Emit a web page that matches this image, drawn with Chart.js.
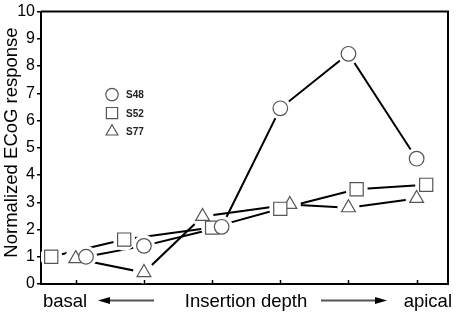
<!DOCTYPE html>
<html>
<head>
<meta charset="utf-8">
<script src="https://cdn.jsdelivr.net/npm/chart.js@4/dist/chart.umd.min.js"></script>
<style>
  html, body { margin: 0; padding: 0; background: #fff; }
  #wrap { width: 459px; height: 315px; }
</style>
</head>
<body>
<div id="wrap"><canvas id="ecogChart"></canvas></div>
<script>
// insertion depth positions (tick marks along the x-axis)
var depths = [1, 2, 3, 4, 5, 6];
var yTicks = [0, 1, 2, 3, 4, 5, 6, 7, 8, 9, 10];
// subjects, plotted slightly offset around each depth
var s48X = [1.15, 2.0, 3.14, 4.0, 5.0, 6.0];
var s48Y = [1.0, 1.4, 2.1, 6.45, 8.45, 4.6];
var s52X = [0.64, 1.71, 3.0, 4.0, 5.12, 6.14];
var s52Y = [1.0, 1.63, 2.07, 2.76, 3.48, 3.64];
var s77X = [1.0, 2.0, 2.86, 4.14, 5.0, 6.0];
var s77Y = [0.93, 0.42, 2.48, 2.92, 2.8, 3.14];

var FONT = '"Liberation Sans", Arial, sans-serif';

function pts(xs, ys) {
  return xs.map(function (x, i) { return { x: x, y: ys[i] }; });
}

var series = [
  { label: 'S48', data: pts(s48X, s48Y), style: 'circle', r: 7.3 },
  { label: 'S52', data: pts(s52X, s52Y), style: 'rect', r: 9.3 },
  { label: 'S77', data: pts(s77X, s77Y), style: 'triangle', r: 8 }
];

var datasets = [];
series.forEach(function (s) {
  // connecting line
  datasets.push({
    data: s.data, showLine: true, borderColor: '#000', borderWidth: 2,
    pointRadius: 0, order: 3
  });
  // white gap around each marker
  datasets.push({
    data: s.data, showLine: false, pointStyle: 'circle', pointRadius: 11,
    pointBackgroundColor: '#fff', pointBorderWidth: 0, order: 2
  });
  // marker
  datasets.push({
    label: s.label, data: s.data, showLine: false, pointStyle: s.style,
    pointRadius: s.r, pointBackgroundColor: '#fff', pointBorderColor: '#555',
    pointBorderWidth: 1.2, order: 1
  });
});

var decorations = {
  id: 'decorations',
  afterDatasetsDraw: function (chart) {
    var ctx = chart.ctx, a = chart.chartArea, xs = chart.scales.x;
    ctx.save();
    // frame on top and right
    ctx.strokeStyle = '#000';
    ctx.lineWidth = 2;
    ctx.beginPath();
    ctx.moveTo(a.left, a.top);
    ctx.lineTo(a.right, a.top);
    ctx.lineTo(a.right, a.bottom);
    ctx.stroke();
    // inward tick marks on x-axis
    ctx.lineWidth = 1.5;
    depths.forEach(function (d) {
      var px = Math.round(xs.getPixelForValue(d)) + 0.5;
      ctx.beginPath();
      ctx.moveTo(px, a.bottom);
      ctx.lineTo(px, a.bottom - 4);
      ctx.stroke();
    });
    // legend inside the plot
    var lx = a.left + 71, ly = a.top + 83;
    series.forEach(function (s, i) {
      var y = ly + i * 18.5;
      ctx.fillStyle = '#fff';
      ctx.strokeStyle = '#555';
      ctx.lineWidth = 1.2;
      Chart.helpers.drawPoint(ctx, { pointStyle: s.style, radius: s.r * 0.85, borderWidth: 1.2 }, lx, y);
      ctx.fillStyle = '#222';
      ctx.font = 'bold 10px ' + FONT;
      ctx.textAlign = 'left';
      ctx.textBaseline = 'middle';
      ctx.fillText(s.label, lx + 14, y + 1);
    });
    // y-axis title
    ctx.fillStyle = '#000';
    ctx.font = '18.5px ' + FONT;
    ctx.textAlign = 'center';
    ctx.textBaseline = 'middle';
    ctx.save();
    ctx.translate(12, 142.5);
    ctx.rotate(-Math.PI / 2);
    ctx.fillText('Normalized ECoG response', 0, 0);
    ctx.restore();
    // x-axis caption with arrows
    ctx.font = '18.5px ' + FONT;
    ctx.textBaseline = 'alphabetic';
    ctx.textAlign = 'left';
    ctx.fillText('basal', 43, 307);
    ctx.textAlign = 'center';
    ctx.fillText('Insertion depth', 246, 307);
    ctx.textAlign = 'right';
    ctx.fillText('apical', 452, 307);
    var ay = 300.5;
    ctx.lineWidth = 2;
    ctx.beginPath();
    ctx.moveTo(154, ay); ctx.lineTo(106, ay);
    ctx.moveTo(321, ay); ctx.lineTo(379, ay);
    ctx.stroke();
    ctx.beginPath();
    ctx.moveTo(98, ay); ctx.lineTo(110, ay - 3.5); ctx.lineTo(110, ay + 3.5); ctx.closePath();
    ctx.moveTo(387, ay); ctx.lineTo(375, ay - 3.5); ctx.lineTo(375, ay + 3.5); ctx.closePath();
    ctx.fill();
    ctx.restore();
  }
};

new Chart(document.getElementById('ecogChart'), {
  type: 'scatter',
  data: { datasets: datasets },
  options: {
    responsive: true,
    maintainAspectRatio: false,
    animation: false,
    events: [],
    layout: { padding: { top: 10, right: 7, left: 0, bottom: 0 } },
    plugins: { legend: { display: false }, tooltip: { enabled: false } },
    scales: {
      x: {
        type: 'linear', min: 0.49, max: 6.46,
        grid: { display: false },
        border: { display: true, color: '#000', width: 2 },
        ticks: { display: false },
        afterFit: function (s) { s.height = 31; }
      },
      y: {
        min: 0, max: 10,
        afterBuildTicks: function (s) { s.ticks = yTicks.map(function (v) { return { value: v }; }); },
        grid: { drawOnChartArea: false, drawTicks: true, tickLength: 4, color: '#000', lineWidth: 1.5 },
        border: { display: true, color: '#000', width: 2 },
        ticks: { color: '#000', padding: 2, font: { family: FONT, size: 16 } },
        afterFit: function (s) { s.width = 41; }
      }
    }
  },
  plugins: [decorations]
});
</script>
</body>
</html>
